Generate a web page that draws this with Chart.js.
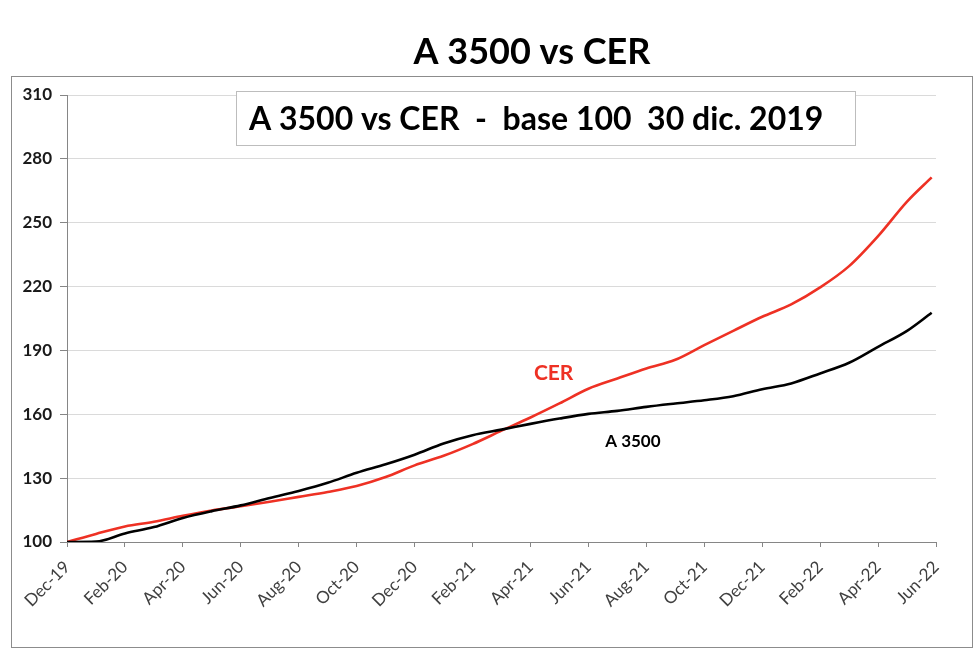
<!DOCTYPE html>
<html>
<head>
<meta charset="utf-8">
<title>A 3500 vs CER</title>
<script src="https://cdn.jsdelivr.net/npm/chart.js@4/dist/chart.umd.min.js"></script>
<style>
  html, body { margin: 0; padding: 0; background: #fff; }
</style>
</head>
<body>
<canvas id="chart" width="978" height="656"></canvas>
<script>
// etiquetas del eje X (cada 2 meses)
const tickLabels = ['Dec-19', 'Feb-20', 'Apr-20', 'Jun-20', 'Aug-20', 'Oct-20', 'Dec-20', 'Feb-21',
  'Apr-21', 'Jun-21', 'Aug-21', 'Oct-21', 'Dec-21', 'Feb-22', 'Apr-22', 'Jun-22'];

// posición de cada dato, en meses desde fin de dic-19
const monthPos = [0, 1, 2, 3, 4, 5, 6, 7, 8, 9, 10, 11, 12, 13, 14, 15, 16, 17, 18, 19,
  20, 21, 22, 23, 24, 25, 26, 27, 28, 29, 29.85];

// base 100 = 30 dic. 2019
const cer = [100, 103.8, 107.3, 109.5, 112.3, 114.8, 116.8, 118.9, 121.2, 123.5,
  126.3, 130.5, 136, 140.5, 146, 152.3, 158.5, 165.1, 172, 176.8,
  181.5, 185.6, 192.5, 199.2, 205.8, 211.6, 219.6, 229.6, 243.7, 259.9, 271.3];

const a3500 = [100, 100.2, 104.0, 107.0, 111.3, 114.5, 117.2, 120.7, 124.0, 127.8,
  132.5, 136.5, 141, 146.3, 150.2, 152.8, 155.5, 158.0, 160.2, 161.6,
  163.5, 165.1, 166.6, 168.5, 171.8, 174.5, 179.2, 184.2, 191.7, 199.2, 207.7];

const yTicks = { min: 100, max: 310, step: 30 };

function toPoints(values) {
  return values.map((v, i) => ({ x: monthPos[i], y: v }));
}

// marco, títulos y rótulos de las series
const decor = {
  id: 'decor',
  beforeDraw(chart) {
    const c = chart.ctx;
    c.save();
    c.fillStyle = '#fff';
    c.fillRect(0, 0, chart.width, chart.height);
    c.strokeStyle = '#8c8c8c';
    c.lineWidth = 1;
    c.strokeRect(11.5, 76.5, 961, 571);
    c.fillStyle = '#000';
    c.font = 'bold 36px Lato';
    c.textAlign = 'center';
    c.textBaseline = 'alphabetic';
    c.fillText('A 3500 vs CER', 532, 64);
    c.restore();
  },
  afterDraw(chart) {
    const c = chart.ctx;
    const xs = chart.scales.x, ys = chart.scales.y;
    c.save();
    // recuadro del subtítulo
    c.fillStyle = '#fff';
    c.fillRect(236, 91, 620, 55);
    c.strokeStyle = '#bdbdbd';
    c.lineWidth = 1;
    c.strokeRect(236.5, 91.5, 619, 54);
    c.fillStyle = '#000';
    c.font = 'bold 32px Lato';
    c.textAlign = 'left';
    c.textBaseline = 'alphabetic';
    c.fillText('A 3500 vs CER  -  base 100  30 dic. 2019', 249, 130);

    c.fillStyle = '#ee3124';
    c.font = 'bold 21px Lato';
    c.textAlign = 'center';
    c.fillText('CER', xs.getPixelForValue(16.8), ys.getPixelForValue(176));

    c.fillStyle = '#000';
    c.font = 'bold 17px Lato';
    c.textAlign = 'left';
    c.fillText('A 3500', xs.getPixelForValue(18.58), ys.getPixelForValue(144.5));
    c.restore();
  }
};

document.addEventListener('DOMContentLoaded', function () {
  Chart.defaults.font.family = 'Lato';
  const ctx = document.getElementById('chart');
  new Chart(ctx.getContext('2d'), {
    type: 'line',
    data: {
      datasets: [
        { label: 'A 3500', data: toPoints(a3500), borderColor: '#000', borderWidth: 2.6,
          pointRadius: 0, fill: false, cubicInterpolationMode: 'monotone' },
        { label: 'CER', data: toPoints(cer), borderColor: '#ee3124', borderWidth: 2.6,
          pointRadius: 0, fill: false, cubicInterpolationMode: 'monotone' }
      ]
    },
    options: {
      responsive: false,
      animation: false,
      layout: { padding: { left: 11, right: 42, top: 95, bottom: 14 } },
      plugins: {
        legend: { display: false },
        tooltip: { enabled: false }
      },
      scales: {
        x: {
          type: 'linear',
          min: 0,
          max: 30,
          afterFit(scale) { scale.height = 100; },
          ticks: {
            stepSize: 2,
            autoSkip: false,
            maxRotation: 45,
            minRotation: 45,
            padding: 10,
            color: '#404040',
            font: { size: 17 },
            callback: (v) => tickLabels[v / 2]
          },
          grid: { drawOnChartArea: false, tickColor: '#868686', tickLength: 5 },
          border: { color: '#868686' }
        },
        y: {
          min: yTicks.min,
          max: yTicks.max,
          afterFit(scale) { scale.width = 56; },
          ticks: {
            stepSize: yTicks.step,
            padding: 8,
            color: '#1a1a1a',
            font: { size: 17, weight: 'bold' }
          },
          grid: { color: '#dadada', tickColor: '#868686', tickLength: 7 },
          border: { color: '#868686' }
        }
      }
    },
    plugins: [decor]
  });
});
</script>
</body>
</html>
